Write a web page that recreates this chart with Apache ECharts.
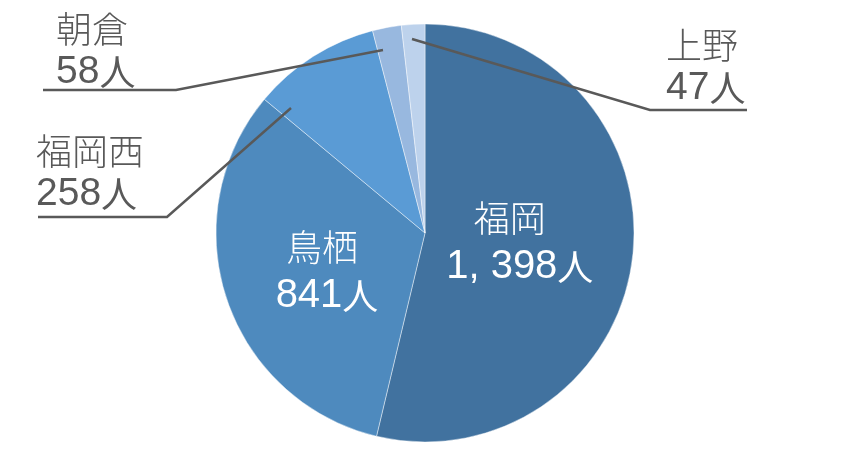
<!DOCTYPE html>
<html><head><meta charset="utf-8">
<script src="https://cdn.jsdelivr.net/npm/echarts@6/dist/echarts.min.js"></script>
<style>html,body{margin:0;padding:0;background:#fff}#c{width:848px;height:468px}</style>
</head><body><div id="c"></div>
<script>
// ---- data ----
const categories = ['福岡', '鳥栖', '福岡西', '朝倉', '上野'];
const values = [1398, 841, 258, 58, 47];
const unit = '人';

// ---- styling / layout (not data) ----
const colors = ['#41729F', '#4E8ABE', '#5A9BD5', '#98B8DF', '#BDD2EC'];
const insideOffsets = { '福岡': [-12, -3], '鳥栖': [4, 5] };
const insideNamePad = { '福岡': [0, 20, 0, 0], '鳥栖': [0, 10, 0, 0] };
const outsideLayout = {
  '福岡西': { x: 36, y: 130, line: [[291, 108], [167, 217], [38, 217]] },
  '朝倉':   { x: 56, y: 8,   line: [[383, 50], [176, 90], [43, 90]] },
  '上野':   { x: 666, y: 24, line: [[412, 39], [650, 110], [747, 110]] }
};

const CJK = '"Noto Sans CJK JP", "Noto Sans CJK SC", sans-serif';
const NUM = '"Liberation Sans Narrow", "Liberation Sans", Arial, sans-serif';

function fmt(v) { return v.toLocaleString('en-US').replace(/,/g, ', '); }
const formatter = p => '{n|' + p.name + '}\n{v|' + fmt(p.value) + '}{u|' + unit + '}';

// base pie: sectors + inside labels
const baseData = categories.map((name, i) => {
  const inside = insideOffsets[name];
  const item = { name: name, value: values[i], itemStyle: { color: colors[i] } };
  if (inside) {
    item.label = { show: true, position: 'inside', offset: inside };
  } else {
    item.label = { show: false };
  }
  return item;
});

// overlay pie: transparent sectors carrying the outside labels and leader lines (drawn above)
const overlayData = categories.map((name, i) => {
  const out = !!outsideLayout[name];
  return { name: name, value: values[i],
    label: { show: out },
    labelLine: { show: out } };
});

const common = {
  type: 'pie',
  center: [425, 233],
  radius: 209,
  startAngle: 90,
  clockwise: true,
  avoidLabelOverlap: false,
  emphasis: { disabled: true }
};

const chart = echarts.init(document.getElementById('c'), null, { renderer: 'canvas' });
chart.setOption({
  backgroundColor: '#fff',
  animation: false,
  series: [
    Object.assign({}, common, {
      z: 2,
      itemStyle: { borderColor: 'rgba(255,255,255,0.55)', borderWidth: 0.8 },
      label: {
        formatter: p => '{n|' + p.name + '}\n{v|' + fmt(p.value) + '}{u|' + unit + '}',
        color: '#fff', lineHeight: 49,
        rich: {
          n: { fontFamily: CJK, fontSize: 36, fontWeight: 300, color: '#fff', lineHeight: 49 },
          v: { fontFamily: NUM, fontSize: 40, color: '#fff', lineHeight: 49 },
          u: { fontFamily: CJK, fontSize: 36, color: '#fff', lineHeight: 49 }
        }
      },
      labelLine: { show: false },
      data: baseData.map(d => {
        if (insideNamePad[d.name]) {
          d.label.formatter = p => '{n' + p.dataIndex + '|' + p.name + '}\n{v|' + fmt(p.value) + '}{u|' + unit + '}';
          d.label.rich = {};
          d.label.rich['n' + categories.indexOf(d.name)] = { fontFamily: CJK, fontSize: 36, fontWeight: 300, color: '#fff', lineHeight: 49, padding: insideNamePad[d.name] };
        }
        return d;
      })
    }),
    Object.assign({}, common, {
      z: 5,
      silent: true,
      itemStyle: { color: 'rgba(0,0,0,0)', borderWidth: 0 },
      label: {
        formatter: formatter,
        lineHeight: 43,
        rich: {
          n: { fontFamily: CJK, fontSize: 36, fontWeight: 300, color: '#595959', lineHeight: 43 },
          v: { fontFamily: NUM, fontSize: 39, color: '#595959', lineHeight: 43 },
          u: { fontFamily: CJK, fontSize: 36, color: '#595959', lineHeight: 43 }
        }
      },
      labelLine: { showAbove: true, lineStyle: { color: '#595959', width: 2.5 }, smooth: false },
      labelLayout: function (params) {
        const name = categories[params.dataIndex];
        const o = outsideLayout[name];
        if (!o) return {};
        return { x: o.x, y: o.y, align: 'left', verticalAlign: 'top', labelLinePoints: o.line };
      },
      data: overlayData
    })
  ]
});
</script></body></html>
